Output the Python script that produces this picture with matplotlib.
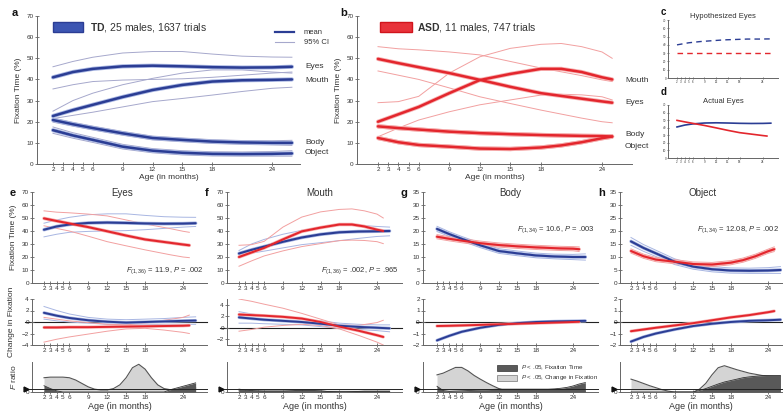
import matplotlib
matplotlib.use("Agg")
import matplotlib.pyplot as plt
from matplotlib.patches import Rectangle

plt.rcParams['font.family'] = ['Liberation Sans', 'DejaVu Sans']
plt.rcParams['mathtext.fontset'] = 'custom'
plt.rcParams['mathtext.rm'] = 'Liberation Sans'
plt.rcParams['mathtext.it'] = 'Liberation Sans:italic'
plt.rcParams['mathtext.bf'] = 'Liberation Sans:bold'

# ---------------- data ----------------
age_ticks = [2, 3, 4, 5, 6, 9, 12, 15, 18, 24]
fix_ticks = [0, 10, 20, 30, 40, 50, 60, 70]
small_ticks = [0, 5, 10, 15, 20, 25, 30, 35]

td_age = [2, 4, 6, 9, 12, 15, 18, 21, 24, 26]
td_eyes = [41, 43.5, 45, 46.2, 46.5, 46.2, 45.8, 45.6, 45.7, 46]
td_eyes_hi = [46, 48.5, 50.5, 52.5, 53.2, 53.2, 52, 51, 50.6, 50.5]
td_eyes_lo = [35.5, 37.5, 39, 39.7, 40, 40.3, 41, 42, 43, 43.5]
td_mouth = [22.7, 25.5, 28, 31.7, 35, 37.4, 39, 39.6, 39.8, 40]
td_mouth_hi = [25, 30, 33.5, 37.5, 40.5, 43, 44.5, 44.5, 43.5, 43]
td_mouth_lo = [21.5, 23, 24.5, 27, 29.5, 31, 32.6, 34.3, 35.8, 36.3]
td_body = [20.8, 18.8, 17, 14.5, 12.3, 11.4, 10.6, 10.2, 10, 10]
td_body_hi = [21.8, 19.7, 17.9, 15.4, 13.2, 12.3, 11.5, 11.1, 11, 11.2]
td_body_lo = [19.8, 17.9, 16.1, 13.6, 11.4, 10.5, 9.7, 9.3, 9, 8.8]
td_object = [16, 13.5, 11.4, 8.2, 6.3, 5.3, 4.8, 4.7, 4.8, 5]
td_object_hi = [17.5, 14.8, 12.6, 9.3, 7.3, 6.3, 5.8, 5.7, 5.9, 6.3]
td_object_lo = [14.5, 12.2, 10.2, 7.1, 5.3, 4.3, 3.8, 3.7, 3.7, 3.7]

asd_age = [2, 4, 6, 9, 12, 15, 18, 20, 22, 24, 25]
asd_eyes = [49.7, 47.7, 45.8, 43, 39.8, 36.5, 33.5, 32.2, 30.9, 29.6, 29]
asd_eyes_hi = [55.5, 54.5, 54, 53, 51.6, 48.5, 45.4, 43.6, 41.8, 39.8, 39]
asd_eyes_lo = [44, 42, 40, 36, 31.8, 28.6, 25.5, 23.6, 21.7, 20, 19.5]
asd_mouth = [20, 23.5, 27, 33.5, 39.7, 42.6, 45, 45, 43.5, 41, 40]
asd_mouth_hi = [29, 29.5, 32, 43, 50.7, 54.7, 56.6, 57, 55.5, 53, 50]
asd_mouth_lo = [12.9, 17, 20.8, 24.7, 28, 30.3, 32.6, 33, 32.7, 31.8, 30.3]
asd_body = [17.8, 17.0, 16.3, 15.3, 14.6, 14.1, 13.7, 13.5, 13.3, 13.2, 13.0]
asd_body_hi = [18.6, 17.8, 17.1, 16.1, 15.4, 14.9, 14.5, 14.3, 14.1, 14.0, 13.9]
asd_body_lo = [17.0, 16.2, 15.5, 14.5, 13.8, 13.3, 12.9, 12.7, 12.5, 12.4, 12.1]
asd_object = [12.3, 10.3, 9.0, 8.2, 7.3, 7.1, 7.8, 8.8, 10.3, 12.2, 13.0]
asd_object_hi = [13.1, 11.1, 9.8, 9.0, 8.1, 7.9, 8.6, 9.6, 11.1, 13.0, 13.9]
asd_object_lo = [11.5, 9.5, 8.2, 7.4, 6.5, 6.3, 7.0, 8.0, 9.5, 11.4, 12.1]

# change in fixation
d_td_age = [2, 4, 6, 9, 12, 15, 18, 21, 24, 26]
d_asd_age = [2, 4, 6, 9, 12, 15, 18, 21, 24, 25]
td_eyes_d = [1.6, 1.1, 0.7, 0.3, 0.05, -0.1, 0, 0.1, 0.2, 0.25]
td_eyes_d_hi = [2.7, 2.0, 1.4, 0.8, 0.5, 0.4, 0.5, 0.6, 0.8, 0.9]
td_eyes_d_lo = [0.5, 0.2, 0.0, -0.2, -0.4, -0.5, -0.5, -0.4, -0.4, -0.4]
asd_eyes_d = [-0.95, -0.95, -0.9, -0.9, -0.85, -0.8, -0.75, -0.7, -0.65, -0.6]
asd_eyes_d_hi = [0.8, 0.5, 0.2, -0.1, -0.4, -0.5, -0.2, 0.3, 0.8, 1.2]
asd_eyes_d_lo = [-3.5, -3.0, -2.6, -2.1, -1.6, -1.2, -1.1, -1.4, -1.8, -2.0]
td_mouth_d = [1.8, 1.6, 1.4, 1.2, 1.0, 0.7, 0.35, 0.15, 0.0, -0.1]
td_mouth_d_hi = [2.8, 2.4, 2.1, 1.8, 1.5, 1.2, 0.8, 0.6, 0.5, 0.5]
td_mouth_d_lo = [0.8, 0.8, 0.7, 0.6, 0.5, 0.2, -0.1, -0.3, -0.5, -0.7]
asd_mouth_d = [2.3, 2.2, 2.1, 1.9, 1.6, 1.0, 0.2, -0.5, -1.3, -1.6]
asd_mouth_d_hi = [5.0, 4.6, 4.1, 3.4, 2.5, 1.5, 0.5, 0.4, 0.9, 1.3]
asd_mouth_d_lo = [-0.6, -0.3, 0.1, 0.4, 0.6, 0.4, -0.2, -1.3, -2.5, -3.0]
td_body_d = [-1.6, -1.2, -0.85, -0.5, -0.25, -0.1, 0, 0.05, 0.08, 0.1]
asd_body_d = [-0.35, -0.33, -0.3, -0.25, -0.2, -0.15, -0.1, -0.05, 0, 0.02]
td_object_d = [-1.7, -1.3, -1.0, -0.65, -0.35, -0.15, 0, 0.1, 0.15, 0.2]
asd_object_d = [-0.8, -0.65, -0.5, -0.3, -0.1, 0.15, 0.4, 0.6, 0.85, 0.95]

# F ratio (relative units)
fr_age = list(range(2, 27))
fr_threshold = 0.1
e_change = [0.50, 0.52, 0.52, 0.52, 0.50, 0.42, 0.30, 0.18, 0.10, 0.07, 0.07, 0.12, 0.25, 0.50, 0.85, 0.97,
            0.80, 0.50, 0.25, 0.12, 0.08, 0.09, 0.10, 0.12, 0.14]
e_fix = [0.22, 0.12, 0.04, 0, 0, 0, 0, 0, 0, 0, 0, 0, 0, 0, 0, 0, 0, 0, 0, 0, 0.08, 0.14, 0.20, 0.26, 0.32]
f_change = [0.04, 0.04, 0.03, 0.03, 0.03, 0.03, 0.03, 0.03, 0.03, 0.03, 0.03, 0.03, 0.03, 0.03, 0.02, 0.02,
            0.02, 0.02, 0.02, 0.02, 0.02, 0.02, 0.02, 0.02, 0.02]
f_fix = [0.10, 0.07, 0.05, 0.04, 0.03, 0.03, 0.03, 0.03, 0.04, 0.05, 0.05, 0.05, 0.05, 0.04, 0.02, 0.01,
         0, 0, 0.01, 0.02, 0.03, 0.03, 0.03, 0.03, 0.03]
g_change = [0.60, 0.66, 0.76, 0.86, 0.86, 0.74, 0.58, 0.45, 0.33, 0.22, 0.12, 0.05, 0.02, 0, 0, 0, 0, 0, 0,
            0, 0, 0, 0, 0, 0]
g_fix = [0.20, 0.05, 0.02, 0.03, 0.04, 0.05, 0.06, 0.07, 0.08, 0.09, 0.10, 0.10, 0.10, 0.10, 0.10, 0.10,
         0.10, 0.10, 0.10, 0.11, 0.13, 0.16, 0.21, 0.28, 0.33]
h_change = [0.45, 0.38, 0.30, 0.22, 0.15, 0.08, 0.03, 0, 0, 0, 0, 0.10, 0.30, 0.60, 0.85, 0.92, 0.85, 0.78,
            0.72, 0.66, 0.62, 0.58, 0.56, 0.55, 0.55]
h_fix = [0, 0, 0, 0, 0, 0, 0, 0, 0, 0, 0, 0.05, 0.12, 0.20, 0.28, 0.35, 0.40, 0.45, 0.50, 0.53, 0.55, 0.57,
         0.58, 0.58, 0.58]

# hypothesized eyes
hyp_age = [2, 5, 8, 11, 14, 17, 20, 23, 26]
hyp_td = [40, 42.5, 44, 45, 46, 46.5, 47, 47, 47.2]
hyp_asd = [30, 30, 30, 30, 30, 30, 30, 30, 30]

# ---------------- style ----------------
W, H = 783, 416
fig = plt.figure(figsize=(W / 100, H / 100), dpi=100)
TXT = '#333333'
SP = '#666666'
TD_C, TD_H, TD_CI = '#2b3d94', '#a8b6e2', '#a6a8cc'
ASD_C, ASD_H, ASD_CI = '#e3262d', '#f7b0b0', '#f2a0a0'


def px_axes(l, t, r, b):
    return fig.add_axes([l / W, 1 - b / H, (r - l) / W, (b - t) / H])


def xlim_from(l, r, p2, p24):
    s = (p24 - p2) / 22.0
    return (2 - (p2 - l) / s, 2 + (r - p2) / s)


def style(ax, fs=4.6, ylabels=True):
    for s in ['top', 'right']:
        ax.spines[s].set_visible(False)
    for s in ['left', 'bottom']:
        ax.spines[s].set_color(SP)
        ax.spines[s].set_linewidth(0.7)
    ax.tick_params(axis='both', colors=SP, labelcolor=TXT, labelsize=fs, length=2.5, width=0.6,
                   direction='inout', pad=1)
    ax.set_xticks(age_ticks)
    ax.set_xticklabels([str(a) for a in age_ticks])


def mean_line(ax, x, y, c, h, lw=1.8, halo=1.2):
    ax.plot(x, y, color=h, lw=lw + halo, solid_capstyle='round', zorder=3)
    ax.plot(x, y, color=c, lw=lw, solid_capstyle='round', zorder=4)


def ci_line(ax, x, y, c, lw=0.7):
    ax.plot(x, y, color=c, lw=lw, zorder=2)


# ---------------- panel a ----------------
ax = px_axes(37, 16, 300, 164)
style(ax)
ax.set_xlim(*xlim_from(37, 300, 53, 272))
ax.set_ylim(0, 70)
ax.set_yticks(fix_ticks)
for m, hi, lo in [(td_eyes, td_eyes_hi, td_eyes_lo), (td_mouth, td_mouth_hi, td_mouth_lo),
                  (td_body, td_body_hi, td_body_lo), (td_object, td_object_hi, td_object_lo)]:
    ci_line(ax, td_age, hi, TD_CI)
    ci_line(ax, td_age, lo, TD_CI)
    mean_line(ax, td_age, m, TD_C, TD_H)
ax.set_xlabel('Age (in months)', fontsize=6, color=TXT, labelpad=1)
ax.set_ylabel('Fixation Time (%)', fontsize=6, color=TXT, labelpad=3)

# ---------------- panel b ----------------
ax = px_axes(357, 16, 632, 164)
style(ax)
ax.set_xlim(*xlim_from(357, 632, 378, 602))
ax.set_ylim(0, 70)
ax.set_yticks(fix_ticks)
for m, hi, lo in [(asd_eyes, asd_eyes_hi, asd_eyes_lo), (asd_mouth, asd_mouth_hi, asd_mouth_lo),
                  (asd_body, asd_body_hi, asd_body_lo), (asd_object, asd_object_hi, asd_object_lo)]:
    ci_line(ax, asd_age, hi, ASD_CI)
    ci_line(ax, asd_age, lo, ASD_CI)
    mean_line(ax, asd_age, m, ASD_C, ASD_H)
ax.set_xlabel('Age (in months)', fontsize=6, color=TXT, labelpad=1)
ax.set_ylabel('Fixation Time (%)', fontsize=6, color=TXT, labelpad=3)


# figure-level text helper (pixel coords)
def ftext(x, y, s, **kw):
    kw.setdefault('color', TXT)
    fig.text(x / W, 1 - y / H, s, **kw)


# legends for a and b
fig.patches.append(Rectangle((53 / W, 1 - 32 / H), 30 / W, 10 / H, transform=fig.transFigure,
                             facecolor='#3c55b2', edgecolor=TD_C, lw=1.0))
ftext(90, 27, r'$\bf{TD}$, 25 males, 1637 trials', fontsize=7.5, va='center')
fig.patches.append(Rectangle((380 / W, 1 - 32 / H), 32 / W, 10 / H, transform=fig.transFigure,
                             facecolor='#e8323a', edgecolor='#d0141c', lw=1.0))
ftext(417, 27, r'$\bf{ASD}$, 11 males, 747 trials', fontsize=7.5, va='center')
fig.lines.append(plt.Line2D([275 / W, 294 / W], [1 - 32 / H, 1 - 32 / H], transform=fig.transFigure,
                            color=TD_C, lw=1.6))
fig.lines.append(plt.Line2D([275 / W, 294 / W], [1 - 42 / H, 1 - 42 / H], transform=fig.transFigure,
                            color=TD_CI, lw=0.8))
ftext(304, 32, 'mean', fontsize=5.5, va='center')
ftext(304, 42, '95% CI', fontsize=5.5, va='center')

for y, s in [(66, 'Eyes'), (80, 'Mouth'), (142, 'Body'), (153, 'Object')]:
    ftext(305, y, s, fontsize=6, va='center')
for y, s in [(80, 'Mouth'), (103, 'Eyes'), (135, 'Body'), (146, 'Object')]:
    ftext(625, y, s, fontsize=6, va='center')

# ---------------- panels c, d ----------------
for (t, b, title) in [(20, 78, 'Hypothesized Eyes'), (105, 158, 'Actual Eyes')]:
    ax = px_axes(668, t, 778, b)
    style(ax, fs=2.2)
    ax.tick_params(length=1.5, pad=0.5)
    ax.set_xlim(*xlim_from(668, 778, 677, 763))
    ax.set_ylim(0, 70)
    ax.set_yticks(fix_ticks)
    ax.set_title(title, fontsize=5.5, color=TXT, pad=1)
    if t == 20:
        ax.plot(hyp_age, hyp_td, color=TD_C, lw=1.0, ls=(0, (4, 3)))
        ax.plot(hyp_age, hyp_asd, color=ASD_C, lw=1.0, ls=(0, (4, 3)))
    else:
        ax.plot(td_age, td_eyes, color=TD_C, lw=1.2)
        ax.plot(asd_age, asd_eyes, color=ASD_C, lw=1.2)

# ---------------- bottom panels e-h ----------------
cols = [
    dict(l=32, r=207, p2=44, p24=183, title='Eyes', tx=122, letter='e',
         top=(td_eyes, td_eyes_hi, td_eyes_lo, asd_eyes, asd_eyes_hi, asd_eyes_lo), ylim=(0, 70), yt=fix_ticks,
         mid=(td_eyes_d, td_eyes_d_hi, td_eyes_d_lo, asd_eyes_d, asd_eyes_d_hi, asd_eyes_d_lo),
         mylim=(-4, 4), myt=[-4, -2, 0, 2, 4],
         F=r'$F_{(1,36)}$ = 11.9, $P$ = .002', Fy=271, ch=e_change, fx=e_fix),
    dict(l=227, r=402, p2=239, p24=377, title='Mouth', tx=320, letter='f',
         top=(td_mouth, td_mouth_hi, td_mouth_lo, asd_mouth, asd_mouth_hi, asd_mouth_lo), ylim=(0, 70),
         yt=fix_ticks,
         mid=(td_mouth_d, td_mouth_d_hi, td_mouth_d_lo, asd_mouth_d, asd_mouth_d_hi, asd_mouth_d_lo),
         mylim=(-3, 5), myt=[-2, 0, 2, 4],
         F=r'$F_{(1,36)}$ = .002, $P$ = .965', Fy=271, ch=f_change, fx=f_fix),
    dict(l=423, r=598, p2=437, p24=573, title='Body', tx=510, letter='g',
         top=(td_body, td_body_hi, td_body_lo, asd_body, asd_body_hi, asd_body_lo), ylim=(0, 35),
         yt=small_ticks,
         mid=(td_body_d, None, None, asd_body_d, None, None), mylim=(-2, 2), myt=[-2, -1, 0, 1, 2],
         F=r'$F_{(1,34)}$ = 10.6, $P$ = .003', Fy=230, ch=g_change, fx=g_fix),
    dict(l=620, r=782, p2=631, p24=768, title='Object', tx=703, letter='h',
         top=(td_object, td_object_hi, td_object_lo, asd_object, asd_object_hi, asd_object_lo), ylim=(0, 35),
         yt=small_ticks,
         mid=(td_object_d, None, None, asd_object_d, None, None), mylim=(-2, 2), myt=[-2, -1, 0, 1, 2],
         F=r'$F_{(1,34)}$ = 12.08, $P$ = .002', Fy=230, ch=h_change, fx=h_fix),
]

for i, c in enumerate(cols):
    xl = xlim_from(c['l'], c['r'], c['p2'], c['p24'])
    # top row
    ax = px_axes(c['l'], 192, c['r'], 283)
    style(ax)
    ax.set_xlim(*xl)
    ax.set_ylim(*c['ylim'])
    ax.set_yticks(c['yt'])
    tm, th, tl, am, ah, al = c['top']
    ci_line(ax, td_age, th, TD_H)
    ci_line(ax, td_age, tl, TD_H)
    ci_line(ax, asd_age, ah, ASD_CI)
    ci_line(ax, asd_age, al, ASD_CI)
    mean_line(ax, td_age, tm, TD_C, TD_H, lw=1.5, halo=1.0)
    mean_line(ax, asd_age, am, ASD_C, ASD_H, lw=1.5, halo=1.0)
    ax.text(xl[1] - 0.5, c['ylim'][1] * ((283 - c['Fy']) / 91.0), c['F'], fontsize=5.5, color=TXT,
            ha='right', va='center')
    if i == 0:
        ax.set_ylabel('Fixation Time (%)', fontsize=6, color=TXT, labelpad=3)
    # middle row
    ax = px_axes(c['l'], 299, c['r'], 345)
    style(ax)
    ax.set_xlim(*xl)
    ax.set_ylim(*c['mylim'])
    ax.set_yticks(c['myt'])
    ax.axhline(0, color='#222222', lw=0.8, zorder=1, xmin=-0.04, clip_on=False)
    tm, th, tl, am, ah, al = c['mid']
    if th is not None:
        ci_line(ax, d_td_age, th, TD_H)
        ci_line(ax, d_td_age, tl, TD_H)
        ci_line(ax, d_asd_age, ah, ASD_CI)
        ci_line(ax, d_asd_age, al, ASD_CI)
    mean_line(ax, d_td_age, tm, TD_C, TD_H, lw=1.4, halo=0.9)
    mean_line(ax, d_asd_age, am, ASD_C, ASD_H, lw=1.4, halo=0.9)
    if i == 0:
        ax.set_ylabel('Change in Fixation', fontsize=6, color=TXT, labelpad=5)
    # bottom row
    ax = px_axes(c['l'], 362, c['r'], 392)
    style(ax)
    ax.set_xlim(*xl)
    ax.set_ylim(0, 1.05)
    ax.set_yticks([0])
    ax.fill_between(fr_age, 0, c['ch'], color='#d4d4d4', lw=0, zorder=2)
    ax.plot(fr_age, c['ch'], color='#555555', lw=0.8, zorder=3)
    ax.fill_between(fr_age, 0, c['fx'], color='#595959', lw=0, zorder=4)
    ax.plot(fr_age, c['fx'], color='#333333', lw=0.6, zorder=5)
    ax.axhline(fr_threshold, color='#222222', lw=0.7, zorder=6, xmin=-0.04, clip_on=False)
    ax.plot([xl[0] - 0.9], [fr_threshold], marker='>', color='#111111', ms=3.5, clip_on=False, zorder=7)
    ax.set_xlabel('Age (in months)', fontsize=6.5, color=TXT, labelpad=1)
    if i == 0:
        ax.set_ylabel(r'$F$ ratio', fontsize=6, color=TXT, labelpad=5)
    # title and panel letter
    ftext(c['tx'], 193, c['title'], fontsize=7, ha='center', va='center')
    ftext(c['l'] - 22, 193, c['letter'], fontsize=8, fontweight='bold', va='center', color='#111111')

# legend for F ratio areas (in g)
fig.patches.append(Rectangle((497 / W, 1 - 371 / H), 20 / W, 6 / H, transform=fig.transFigure,
                             facecolor='#595959', edgecolor='#333333', lw=0.5))
fig.patches.append(Rectangle((497 / W, 1 - 381 / H), 20 / W, 6 / H, transform=fig.transFigure,
                             facecolor='#d4d4d4', edgecolor='#777777', lw=0.5))
ftext(521, 368, r'$P$ < .05, Fixation Time', fontsize=4.5, va='center')
ftext(521, 378, r'$P$ < .05, Change in Fixation', fontsize=4.5, va='center')

# panel letters top
ftext(12, 13, 'a', fontsize=8, fontweight='bold', va='center', color='#111111')
ftext(340, 13, 'b', fontsize=8, fontweight='bold', va='center', color='#111111')
ftext(661, 12, 'c', fontsize=7, fontweight='bold', va='center', color='#111111')
ftext(661, 92, 'd', fontsize=7, fontweight='bold', va='center', color='#111111')

fig.savefig('out.png', dpi=100)
